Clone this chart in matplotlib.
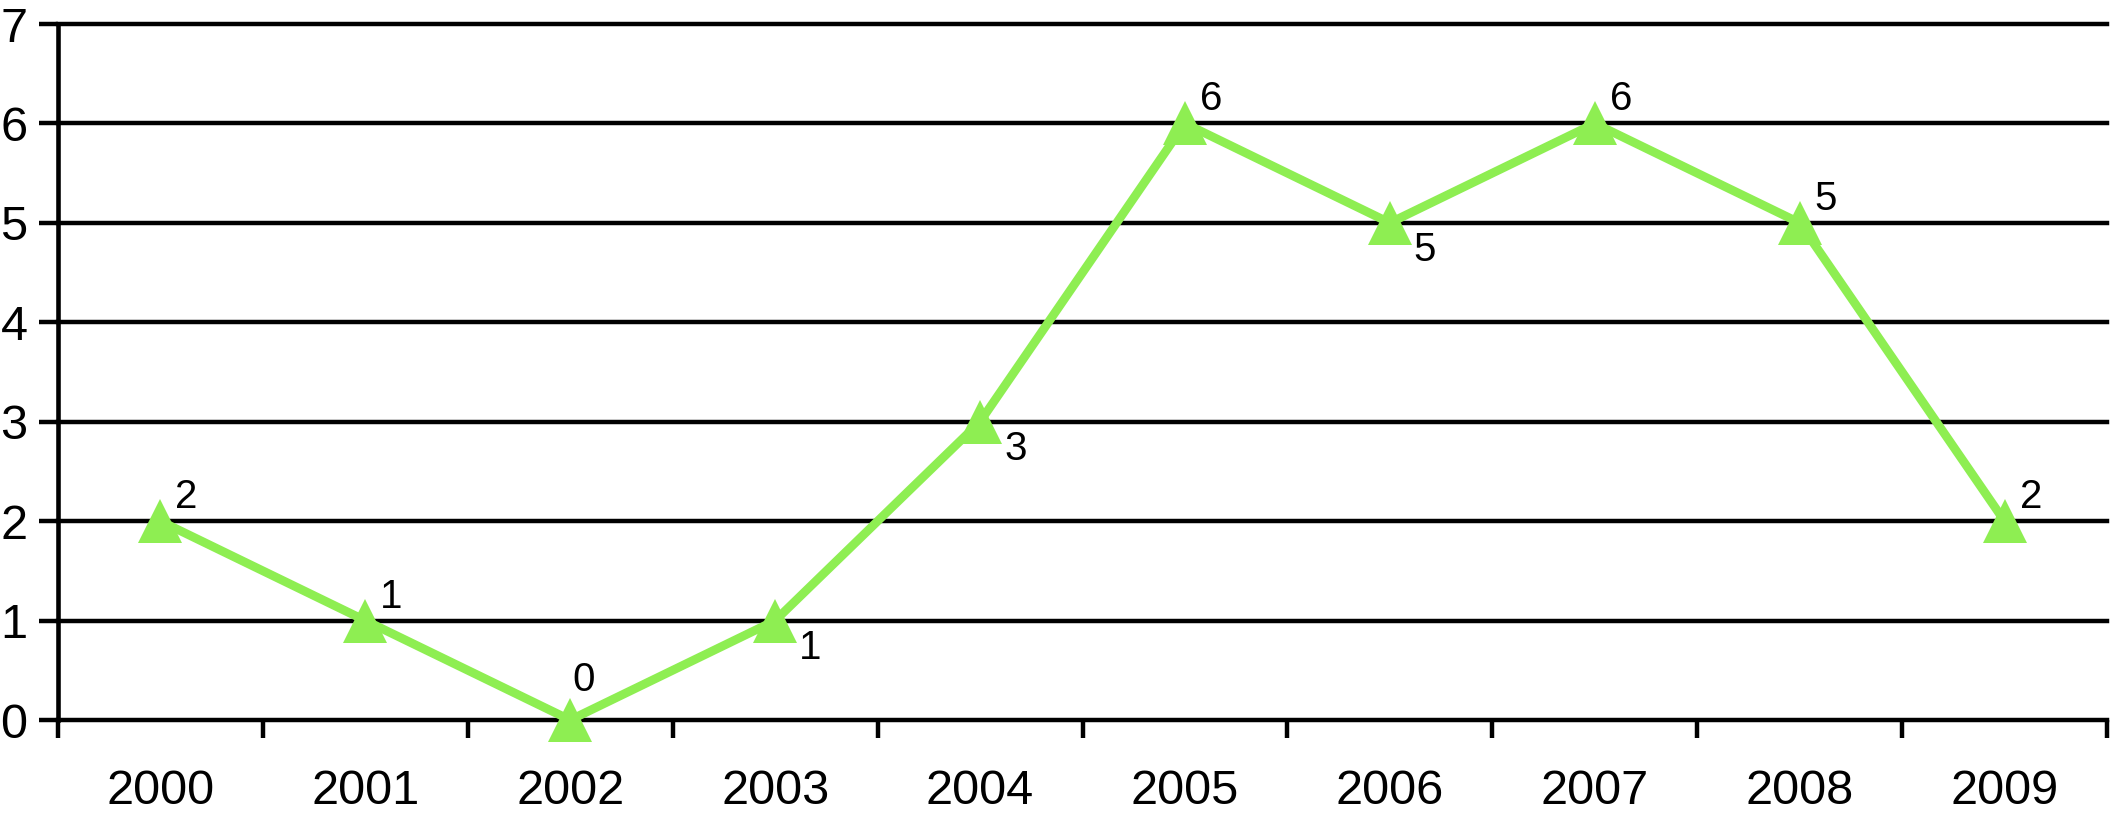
import matplotlib
matplotlib.use("Agg")
import matplotlib.pyplot as plt
from matplotlib.ticker import FixedLocator

years = ["2000", "2001", "2002", "2003", "2004", "2005", "2006", "2007", "2008", "2009"]
values = [2, 1, 0, 1, 3, 6, 5, 6, 5, 2]
label_side = ["ur", "ur", "u", "dr", "dr", "ur", "dr", "ur", "ur", "ur"]
y_ticks = [0, 1, 2, 3, 4, 5, 6, 7]

plt.rcParams['font.family'] = ['Liberation Sans', 'DejaVu Sans']

W, H, DPI = 2111, 815, 100
fig = plt.figure(figsize=(W / DPI, H / DPI), dpi=DPI)
ax = fig.add_axes([58 / W, 1 - 720 / H, (2107 - 58) / W, (720 - 24) / H])

green = '#8EEE52'
x = list(range(len(years)))
ax.plot(x, values, color=green, lw=6.3, marker='^', markersize=31,
        markeredgewidth=0, zorder=3, clip_on=False)

offsets = {"ur": ((15, 5), 'left', 'bottom'),
           "dr": ((24, -8), 'left', 'top'),
           "u": ((2, 21), 'left', 'bottom')}
for xi, v, side in zip(x, values, label_side):
    (dx, dy), ha, va = offsets[side]
    ax.annotate(str(v), (xi, v), xytext=(dx, dy), textcoords='offset pixels',
                ha=ha, va=va, fontsize=29, color='black', zorder=4)

ax.set_xlim(-0.5, len(years) - 0.5)
ax.set_ylim(min(y_ticks), max(y_ticks))

# y axis
ax.set_yticks(y_ticks)
ax.set_yticklabels([str(t) for t in y_ticks], fontsize=35)
ax.tick_params(axis='y', length=14, width=3.2, pad=8, color='black')
ax.yaxis.grid(True, color='black', lw=3.2)
for gl in ax.get_ygridlines():
    gl.set_clip_on(False)

# x axis: boundary ticks (major), labels at centres (minor)
ax.xaxis.set_major_locator(FixedLocator([i - 0.5 for i in range(len(years) + 1)]))
ax.xaxis.set_minor_locator(FixedLocator(x))
ax.set_xticklabels([], minor=False)
ax.set_xticklabels(years, minor=True, fontsize=35)
ax.tick_params(axis='x', which='major', length=13, width=3.2, color='black')
ax.tick_params(axis='x', which='minor', length=0, pad=35)

for s in ['top', 'right', 'bottom']:
    ax.spines[s].set_visible(False)
ax.spines['left'].set_linewidth(3.3)
ax.set_axisbelow(True)

fig.savefig('out.png', dpi=DPI, facecolor='white')
